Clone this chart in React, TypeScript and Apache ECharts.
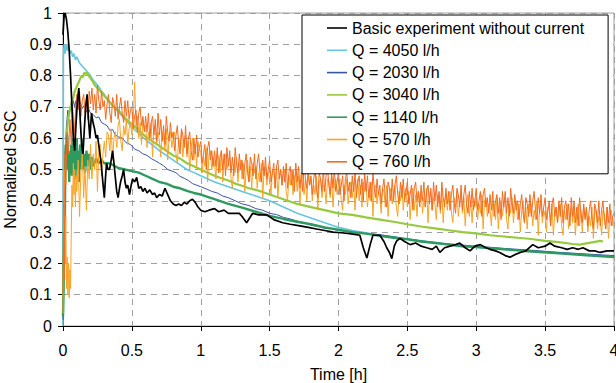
import React, { useEffect, useRef } from "react";
import * as echarts from "echarts";

// ---- Data (time in h, normalized SSC) ----
const seriesNames = [
  "Basic experiment without current",
  "Q = 4050 l/h",
  "Q = 2030 l/h",
  "Q = 3040 l/h",
  "Q = 1140 l/h",
  "Q = 570 l/h",
  "Q = 760 l/h",
];

const basic: [number, number][] = [
  [0,0.93],[0.008,0.99],[0.015,1.0],[0.025,0.98],[0.035,0.94],[0.045,0.88],[0.055,0.8],[0.065,0.7],[0.075,0.6],[0.085,0.56],
  [0.095,0.65],[0.105,0.72],[0.115,0.76],[0.125,0.66],[0.135,0.58],[0.145,0.55],[0.155,0.63],[0.165,0.7],[0.175,0.74],[0.185,0.66],
  [0.195,0.6],[0.207,0.68],[0.218,0.65],[0.229,0.63],[0.24,0.6],[0.25,0.61],[0.265,0.56],[0.277,0.52],[0.287,0.47],[0.3,0.41],
  [0.308,0.47],[0.316,0.52],[0.327,0.5],[0.338,0.5],[0.35,0.53],[0.36,0.56],[0.37,0.52],[0.381,0.47],[0.39,0.43],[0.4,0.41],
  [0.41,0.44],[0.418,0.46],[0.43,0.48],[0.44,0.5],[0.45,0.46],[0.46,0.44],[0.47,0.45],[0.483,0.42],[0.495,0.45],[0.505,0.47],
  [0.52,0.46],[0.535,0.475],[0.55,0.44],[0.565,0.445],[0.58,0.43],[0.595,0.44],[0.61,0.425],[0.63,0.435],[0.65,0.42],[0.665,0.425],
  [0.68,0.41],[0.7,0.42],[0.72,0.415],[0.74,0.44],[0.76,0.42],[0.78,0.4],[0.8,0.39],[0.82,0.385],[0.84,0.39],[0.86,0.385],
  [0.88,0.395],[0.9,0.39],[0.92,0.4],[0.94,0.405],[0.96,0.395],[0.98,0.38],[1.0,0.37],[1.03,0.365],[1.06,0.37],[1.1,0.375],
  [1.13,0.365],[1.17,0.37],[1.2,0.36],[1.245,0.36],[1.28,0.36],[1.3,0.35],[1.333,0.33],[1.355,0.345],[1.377,0.36],[1.42,0.355],
  [1.479,0.355],[1.53,0.34],[1.595,0.33],[1.65,0.325],[1.72,0.32],[1.78,0.315],[1.84,0.31],[1.9,0.305],[1.96,0.3],[2.02,0.298],
  [2.08,0.295],[2.13,0.292],[2.155,0.29],[2.18,0.25],[2.206,0.217],[2.23,0.26],[2.25,0.29],[2.3,0.29],[2.33,0.27],[2.35,0.25],
  [2.37,0.235],[2.387,0.215],[2.405,0.255],[2.42,0.27],[2.445,0.28],[2.48,0.27],[2.52,0.26],[2.56,0.265],[2.6,0.255],[2.64,0.25],
  [2.68,0.245],[2.71,0.255],[2.736,0.235],[2.77,0.25],[2.81,0.255],[2.85,0.26],[2.88,0.265],[2.92,0.25],[2.955,0.24],[2.99,0.255],
  [3.03,0.26],[3.07,0.25],[3.1,0.245],[3.14,0.24],[3.17,0.235],[3.21,0.225],[3.245,0.22],[3.28,0.228],[3.32,0.235],[3.36,0.24],
  [3.41,0.26],[3.45,0.25],[3.5,0.255],[3.535,0.265],[3.57,0.255],[3.62,0.25],[3.66,0.245],[3.7,0.25],[3.74,0.245],[3.775,0.25],
  [3.82,0.24],[3.86,0.24],[3.9,0.235],[3.95,0.24],[4.0,0.24],
];

const q4050: [number, number][] = [
  [0,0.0],[0.003,0.86],[0.008,0.9],[0.015,0.87],[0.022,0.9],[0.03,0.88],[0.04,0.9],[0.05,0.87],[0.06,0.88],[0.07,0.86],
  [0.08,0.87],[0.09,0.85],[0.1,0.86],[0.12,0.84],[0.14,0.83],[0.16,0.82],[0.18,0.81],[0.2,0.8],[0.22,0.785],[0.25,0.77],
  [0.28,0.75],[0.3,0.74],[0.33,0.72],[0.36,0.705],[0.4,0.685],[0.45,0.66],[0.5,0.635],[0.55,0.615],[0.6,0.595],[0.65,0.578],
  [0.7,0.56],[0.75,0.545],[0.8,0.53],[0.85,0.515],[0.9,0.5],[0.95,0.49],[1.0,0.48],[1.1,0.46],[1.2,0.445],[1.3,0.43],
  [1.4,0.415],[1.5,0.4],[1.6,0.38],[1.7,0.36],[1.8,0.345],[1.9,0.33],[2.0,0.315],[2.1,0.305],[2.2,0.298],[2.3,0.29],
  [2.4,0.285],[2.5,0.278],[2.6,0.272],[2.8,0.262],[3.0,0.252],[3.2,0.245],[3.4,0.24],[3.6,0.235],[3.8,0.228],[4.0,0.222],
];

const q2030: [number, number][] = [
  [0,0.02],[0.008,0.35],[0.015,0.55],[0.025,0.64],[0.035,0.69],[0.045,0.67],[0.055,0.71],[0.065,0.69],[0.075,0.72],[0.085,0.7],
  [0.095,0.72],[0.11,0.7],[0.125,0.715],[0.14,0.695],[0.155,0.705],[0.17,0.685],[0.185,0.695],[0.2,0.68],[0.22,0.675],[0.24,0.665],
  [0.26,0.668],[0.28,0.65],[0.3,0.645],[0.32,0.64],[0.34,0.625],[0.36,0.628],[0.38,0.61],[0.4,0.605],[0.43,0.6],[0.46,0.585],
  [0.49,0.58],[0.52,0.565],[0.55,0.56],[0.58,0.55],[0.61,0.545],[0.64,0.535],[0.67,0.528],[0.7,0.52],[0.73,0.512],[0.76,0.5],
  [0.79,0.495],[0.82,0.49],[0.85,0.478],[0.88,0.472],[0.91,0.465],[0.94,0.455],[0.97,0.45],[1.0,0.445],[1.04,0.438],[1.08,0.43],
  [1.12,0.425],[1.16,0.415],[1.2,0.41],[1.25,0.4],[1.3,0.39],[1.35,0.385],[1.4,0.375],[1.45,0.37],[1.5,0.36],[1.55,0.356],
  [1.6,0.347],[1.65,0.342],[1.7,0.335],[1.75,0.33],[1.8,0.322],[1.85,0.318],[1.9,0.312],[1.95,0.31],[2.0,0.305],[2.1,0.3],
  [2.2,0.295],[2.3,0.292],[2.4,0.285],[2.5,0.278],[2.6,0.272],[2.7,0.266],[2.8,0.262],[3.0,0.255],[3.2,0.248],[3.4,0.242],
  [3.6,0.235],[3.8,0.23],[4.0,0.225],
];

const q3040: [number, number][] = [
  [0,0.04],[0.008,0.3],[0.015,0.5],[0.025,0.6],[0.035,0.65],[0.045,0.68],[0.055,0.7],[0.065,0.72],[0.075,0.73],[0.085,0.75],
  [0.095,0.76],[0.105,0.77],[0.115,0.78],[0.125,0.79],[0.135,0.8],[0.145,0.795],[0.155,0.81],[0.165,0.805],[0.175,0.81],[0.185,0.8],
  [0.195,0.795],[0.21,0.785],[0.23,0.77],[0.25,0.76],[0.28,0.745],[0.31,0.73],[0.34,0.715],[0.37,0.7],[0.4,0.69],[0.45,0.665],
  [0.5,0.645],[0.55,0.625],[0.6,0.605],[0.65,0.59],[0.7,0.575],[0.75,0.56],[0.8,0.545],[0.85,0.535],[0.9,0.52],[0.95,0.51],
  [1.0,0.5],[1.05,0.49],[1.1,0.48],[1.15,0.472],[1.2,0.465],[1.25,0.455],[1.3,0.448],[1.35,0.44],[1.4,0.435],[1.45,0.428],
  [1.5,0.42],[1.6,0.405],[1.7,0.39],[1.8,0.38],[1.9,0.37],[2.0,0.36],[2.1,0.355],[2.2,0.347],[2.3,0.34],[2.4,0.333],
  [2.5,0.325],[2.6,0.318],[2.7,0.312],[2.8,0.306],[2.9,0.3],[3.0,0.296],[3.1,0.29],[3.2,0.286],[3.3,0.282],[3.4,0.278],
  [3.5,0.272],[3.6,0.268],[3.7,0.262],[3.75,0.26],[3.8,0.264],[3.85,0.268],[3.9,0.272],[3.92,0.27],
];

const q1140: [number, number][] = [
  [0,0.03],[0.004,0.12],[0.008,0.4],[0.012,0.2],[0.016,0.5],[0.02,0.58],[0.025,0.52],[0.03,0.61],[0.035,0.5],[0.04,0.56],
  [0.045,0.46],[0.05,0.55],[0.055,0.5],[0.06,0.58],[0.065,0.48],[0.07,0.56],[0.075,0.6],[0.08,0.5],[0.085,0.57],[0.09,0.47],
  [0.095,0.55],[0.1,0.6],[0.105,0.5],[0.11,0.56],[0.115,0.46],[0.12,0.54],[0.125,0.58],[0.13,0.5],[0.135,0.55],[0.14,0.6],
  [0.145,0.5],[0.15,0.55],[0.16,0.49],[0.17,0.56],[0.18,0.51],[0.19,0.55],[0.2,0.5],[0.21,0.54],[0.22,0.51],[0.24,0.535],
  [0.26,0.52],[0.28,0.53],[0.3,0.52],[0.33,0.52],[0.36,0.515],[0.4,0.505],[0.45,0.5],[0.5,0.495],[0.55,0.49],[0.6,0.48],
  [0.65,0.47],[0.7,0.46],[0.75,0.455],[0.8,0.445],[0.85,0.44],[0.9,0.432],[0.95,0.425],[1.0,0.42],[1.1,0.405],[1.2,0.39],
  [1.3,0.378],[1.4,0.365],[1.5,0.352],[1.6,0.342],[1.7,0.333],[1.8,0.325],[1.9,0.315],[2.0,0.308],[2.1,0.3],[2.2,0.295],
  [2.3,0.288],[2.4,0.282],[2.5,0.277],[2.6,0.27],[2.7,0.265],[2.8,0.26],[2.9,0.255],[3.0,0.252],[3.2,0.245],[3.4,0.238],
  [3.6,0.232],[3.8,0.226],[4.0,0.22],
];

// Q = 570: first minutes as pairs, then readings every 0.01 h from 0.10 h (one row = 0.1 h)
const q570Early: [number, number][] = [
  [0,0.04],[0.005,0.3],[0.01,0.5],[0.015,0.2],[0.02,0.35],[0.025,0.12],[0.03,0.22],[0.035,0.1],[0.04,0.2],[0.045,0.09],
  [0.05,0.18],[0.055,0.12],[0.06,0.3],[0.065,0.45],[0.07,0.38],[0.075,0.52],[0.08,0.42],[0.085,0.5],[0.09,0.38],[0.095,0.48],
];
const q570Values = [
  0.43,0.53,0.35,0.49,0.55,0.41,0.51,0.37,0.53,0.47,
  0.58,0.47,0.55,0.50,0.59,0.43,0.56,0.58,0.48,0.55,
  0.59,0.54,0.62,0.61,0.56,0.63,0.53,0.60,0.62,0.57,
  0.64,0.66,0.59,0.56,0.64,0.61,0.66,0.58,0.63,0.65,
  0.61,0.66,0.78,0.64,0.67,0.60,0.65,0.58,0.66,0.63,
  0.64,0.57,0.62,0.59,0.65,0.54,0.63,0.64,0.58,0.62,
  0.59,0.54,0.62,0.61,0.56,0.63,0.53,0.60,0.62,0.57,
  0.60,0.62,0.55,0.52,0.60,0.57,0.62,0.54,0.59,0.61,
  0.54,0.59,0.50,0.57,0.60,0.53,0.58,0.51,0.59,0.56,
  0.56,0.49,0.54,0.51,0.57,0.46,0.55,0.56,0.50,0.54,
  0.52,0.47,0.55,0.54,0.49,0.56,0.46,0.53,0.55,0.50,
  0.52,0.54,0.47,0.44,0.52,0.49,0.54,0.46,0.51,0.53,
  0.47,0.52,0.43,0.50,0.53,0.46,0.51,0.44,0.52,0.49,
  0.51,0.44,0.49,0.46,0.52,0.41,0.50,0.51,0.45,0.49,
  0.47,0.42,0.50,0.49,0.44,0.51,0.41,0.48,0.50,0.45,
  0.48,0.50,0.43,0.40,0.48,0.45,0.50,0.42,0.47,0.49,
  0.43,0.48,0.39,0.46,0.49,0.42,0.47,0.40,0.48,0.45,
  0.47,0.40,0.45,0.42,0.48,0.37,0.46,0.47,0.41,0.45,
  0.44,0.39,0.47,0.46,0.41,0.48,0.38,0.45,0.47,0.42,
  0.45,0.47,0.40,0.37,0.45,0.42,0.47,0.39,0.44,0.46,
  0.41,0.46,0.37,0.44,0.47,0.40,0.45,0.38,0.46,0.43,
  0.45,0.38,0.43,0.40,0.46,0.35,0.44,0.45,0.39,0.43,
  0.41,0.36,0.44,0.43,0.38,0.45,0.35,0.42,0.44,0.39,
  0.43,0.45,0.38,0.35,0.43,0.40,0.45,0.37,0.42,0.44,
  0.38,0.43,0.34,0.41,0.44,0.37,0.42,0.35,0.43,0.40,
  0.43,0.36,0.41,0.38,0.44,0.33,0.42,0.43,0.37,0.41,
  0.39,0.34,0.42,0.41,0.36,0.43,0.33,0.40,0.42,0.37,
  0.41,0.43,0.36,0.33,0.41,0.38,0.43,0.35,0.40,0.42,
  0.36,0.41,0.32,0.39,0.42,0.35,0.40,0.33,0.41,0.38,
  0.41,0.34,0.39,0.36,0.42,0.31,0.40,0.41,0.35,0.39,
  0.37,0.32,0.40,0.39,0.34,0.41,0.31,0.38,0.40,0.35,
  0.39,0.41,0.34,0.31,0.39,0.36,0.41,0.33,0.38,0.40,
  0.34,0.39,0.30,0.37,0.40,0.33,0.38,0.31,0.39,0.36,
  0.39,0.32,0.37,0.34,0.40,0.29,0.38,0.39,0.33,0.37,
  0.35,0.30,0.38,0.37,0.32,0.39,0.29,0.36,0.38,0.33,
  0.37,0.39,0.32,0.29,0.37,0.34,0.39,0.31,0.36,0.38,
  0.33,0.38,0.29,0.36,0.39,0.32,0.37,0.30,0.38,0.35,
  0.37,0.30,0.35,0.32,0.38,0.28,0.36,0.37,0.31,0.35,
  0.34,0.29,0.37,0.36,0.31,0.38,0.28,0.35,0.37,0.32,
  0.34,
];

// Q = 760
const q760Early: [number, number][] = [
  [0,0.1],[0.005,0.3],[0.01,0.15],[0.015,0.55],[0.02,0.45],[0.03,0.62],[0.04,0.55],[0.05,0.66],[0.06,0.58],[0.07,0.7],
  [0.08,0.6],[0.09,0.68],
];
const q760Values = [
  0.74,0.69,0.75,0.67,0.72,0.74,0.68,0.73,0.66,0.75,
  0.71,0.76,0.69,0.74,0.68,0.77,0.72,0.69,0.75,0.70,
  0.72,0.66,0.71,0.74,0.68,0.65,0.73,0.71,0.67,0.74,
  0.66,0.70,0.73,0.68,0.65,0.72,0.67,0.72,0.66,0.69,
  0.70,0.63,0.67,0.69,0.62,0.68,0.70,0.64,0.67,0.62,
  0.67,0.62,0.68,0.60,0.65,0.67,0.61,0.66,0.59,0.68,
  0.61,0.66,0.59,0.64,0.58,0.67,0.62,0.59,0.65,0.60,
  0.62,0.56,0.61,0.64,0.58,0.55,0.63,0.61,0.57,0.64,
  0.55,0.60,0.62,0.56,0.53,0.60,0.55,0.61,0.54,0.57,
  0.59,0.52,0.55,0.58,0.50,0.57,0.59,0.53,0.56,0.51,
  0.56,0.51,0.57,0.49,0.54,0.56,0.50,0.55,0.48,0.57,
  0.51,0.56,0.49,0.54,0.48,0.57,0.52,0.49,0.55,0.50,
  0.53,0.47,0.52,0.55,0.49,0.46,0.54,0.52,0.48,0.55,
  0.47,0.52,0.55,0.49,0.46,0.53,0.48,0.54,0.47,0.50,
  0.53,0.46,0.49,0.52,0.44,0.51,0.53,0.47,0.50,0.45,
  0.51,0.46,0.52,0.44,0.49,0.51,0.45,0.50,0.43,0.52,
  0.46,0.51,0.44,0.49,0.43,0.52,0.47,0.44,0.50,0.45,
  0.48,0.42,0.47,0.50,0.44,0.41,0.49,0.47,0.43,0.50,
  0.43,0.48,0.51,0.45,0.42,0.49,0.44,0.50,0.43,0.46,
  0.49,0.42,0.45,0.48,0.40,0.47,0.49,0.43,0.46,0.41,
  0.48,0.43,0.49,0.41,0.46,0.48,0.42,0.47,0.40,0.49,
  0.43,0.48,0.41,0.46,0.40,0.49,0.44,0.41,0.47,0.42,
  0.45,0.39,0.44,0.47,0.41,0.38,0.46,0.44,0.40,0.47,
  0.40,0.45,0.48,0.42,0.39,0.46,0.41,0.47,0.40,0.43,
  0.46,0.39,0.42,0.45,0.37,0.44,0.46,0.40,0.43,0.38,
  0.45,0.40,0.46,0.38,0.43,0.45,0.39,0.44,0.37,0.46,
  0.40,0.45,0.38,0.43,0.37,0.46,0.41,0.38,0.44,0.39,
  0.43,0.37,0.42,0.45,0.39,0.36,0.44,0.42,0.38,0.45,
  0.37,0.42,0.45,0.39,0.36,0.43,0.38,0.44,0.37,0.40,
  0.44,0.37,0.40,0.43,0.35,0.42,0.44,0.38,0.41,0.36,
  0.42,0.37,0.43,0.35,0.40,0.42,0.36,0.41,0.34,0.43,
  0.38,0.43,0.36,0.41,0.35,0.44,0.39,0.36,0.42,0.37,
  0.40,0.34,0.39,0.42,0.36,0.33,0.41,0.39,0.35,0.42,
  0.35,0.40,0.43,0.37,0.34,0.41,0.36,0.42,0.35,0.38,
  0.41,0.34,0.37,0.40,0.32,0.39,0.41,0.35,0.38,0.33,
  0.40,0.35,0.41,0.33,0.38,0.40,0.34,0.39,0.32,0.41,
  0.35,0.40,0.33,0.38,0.32,0.41,0.36,0.33,0.39,0.34,
  0.38,0.32,0.37,0.40,0.34,0.31,0.39,0.37,0.33,0.40,
  0.32,0.37,0.40,0.34,0.31,0.38,0.33,0.39,0.32,0.35,
  0.36,
];

const gridStart = 0.1;
const gridStep = 0.01;
const xTicks = { min: 0, max: 4, interval: 0.5 };
const yTicks = { min: 0, max: 1, interval: 0.1 };

const colors = ["#000000", "#66c6dc", "#3b55a8", "#97c93d", "#2e9a60", "#f8a326", "#f36b21"];

function withGrid(early: [number, number][], values: number[]): [number, number][] {
  const out: [number, number][] = early.slice();
  values.forEach((v, i) => {
    out.push([Number((gridStart + i * gridStep).toFixed(3)), v]);
  });
  return out;
}

const FONT = "'Liberation Sans', Arial, sans-serif";

export default function App() {
  const ref = useRef<HTMLDivElement>(null);
  useEffect(() => {
    if (!ref.current) return;
    const chart = echarts.init(ref.current, undefined, { renderer: "svg" });
    const datasets: [number, number][][] = [
      basic,
      q4050,
      q2030,
      q3040,
      q1140,
      withGrid(q570Early, q570Values),
      withGrid(q760Early, q760Values),
    ];
    const widths = [1.7, 1.6, 1, 2.2, 2.4, 1, 1];
    const zs = [10, 3, 4, 5, 6, 7, 8];
    const series = datasets.map((d, i) => ({
      name: seriesNames[i],
      type: "line",
      data: d,
      symbol: "none",
      showSymbol: false,
      z: zs[i],
      lineStyle: { color: colors[i], width: widths[i] },
      itemStyle: { color: colors[i] },
    }));
    chart.setOption({
      animation: false,
      textStyle: { fontFamily: FONT },
      grid: {
        left: 63,
        right: 2,
        top: 13,
        bottom: 57,
        containLabel: false,
        outerBoundsMode: "none",
        show: true,
        borderColor: "#a0a0a0",
        borderWidth: 1,
      },
      legend: {
        orient: "vertical",
        left: 302,
        top: 15,
        data: seriesNames,
        icon: "rect",
        selectedMode: false,
        backgroundColor: "#ffffff",
        borderColor: "#000000",
        borderWidth: 1,
        borderRadius: 0,
        padding: [5, 24, 4, 25],
        itemWidth: 20,
        itemHeight: 1.6,
        itemGap: 6.3,
        textStyle: { fontSize: 16, color: "#000", fontFamily: FONT, lineHeight: 16 },
        z: 20,
      },
      xAxis: {
        type: "value",
        ...xTicks,
        name: "Time [h]",
        nameLocation: "middle",
        nameGap: 40,
        nameTextStyle: { fontSize: 16, color: "#000", fontFamily: FONT },
        axisLine: { show: true, onZero: false, lineStyle: { color: "#000", width: 1 } },
        axisTick: { show: true, inside: false, length: 5, lineStyle: { color: "#000" } },
        axisLabel: { fontSize: 16, color: "#000", margin: 16, fontFamily: FONT },
        splitLine: { show: true, lineStyle: { color: "#a0a0a0", type: [6, 5], width: 1 } },
      },
      yAxis: {
        type: "value",
        ...yTicks,
        name: "Normalized SSC",
        nameLocation: "middle",
        nameGap: 41,
        nameTextStyle: { fontSize: 16, color: "#000", fontFamily: FONT },
        axisLine: { show: true, onZero: false, lineStyle: { color: "#000", width: 1 } },
        axisTick: { show: true, inside: false, length: 5, lineStyle: { color: "#000" } },
        axisLabel: { fontSize: 16, color: "#000", margin: 11, fontFamily: FONT },
        splitLine: { show: true, lineStyle: { color: "#a0a0a0", type: [6, 5], width: 1 } },
      },
      series,
    });
    return () => chart.dispose();
  }, []);
  return (
    <div
      ref={ref}
      style={{ position: "fixed", left: 0, top: 0, width: 616, height: 383, background: "#fff" }}
    />
  );
}
